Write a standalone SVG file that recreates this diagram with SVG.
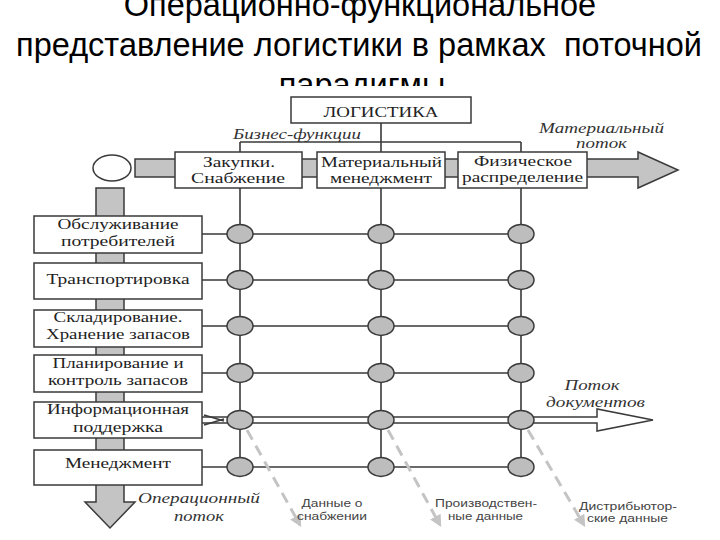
<svg xmlns="http://www.w3.org/2000/svg" width="720" height="540" viewBox="0 0 720 540">
<style>
.title{font-family:"Liberation Sans",Arial,sans-serif;font-size:32.5px;fill:#000;text-anchor:middle}
.box{fill:#fff;stroke:#3a3a3a;stroke-width:1.5}
.lbl{font-family:"Liberation Serif","DejaVu Serif",serif;font-size:14px;fill:#222;text-anchor:middle}
.it{font-family:"Liberation Serif","DejaVu Serif",serif;font-size:14px;font-style:italic;fill:#333;text-anchor:middle}
.sm{font-family:"Liberation Sans",Arial,sans-serif;font-size:11px;fill:#444;text-anchor:middle}
.ln{stroke:#3a3a3a;stroke-width:1.6;fill:none}
.dot{fill:#bdbdbd;stroke:#3a3a3a;stroke-width:1.5}
.band{fill:#c4c4c4;stroke:#3a3a3a;stroke-width:1.5}
.dash{stroke:#c4c4c4;stroke-width:3;stroke-dasharray:11 7;fill:none}
</style>
<defs>
<marker id="ah" viewBox="0 0 10 10" refX="8" refY="5" markerWidth="4" markerHeight="4" orient="auto">
<path d="M0,0 L10,5 L0,10 Z" fill="#c4c4c4"/>
</marker>
</defs>
<rect width="720" height="540" fill="#fff"/>
<g id="title">
<text class="title" x="360" y="16">Операционно-функциональное</text>
<text class="title" x="359" y="56" xml:space="preserve">представление логистики в рамках  поточной</text>
<text class="title" x="362" y="96">парадигмы</text>
</g>
<rect x="20" y="86" width="680" height="454" fill="#fff"/>
<g id="flows">
<path class="band" d="M135,159 L638,159 L638,152 L678,170 L638,188 L638,177 L135,177 Z"/>
<path class="band" d="M96,188 L124,188 L124,502 L135,502 L110,528 L85,502 L96,502 Z"/>
<ellipse cx="112" cy="168" rx="19" ry="13" fill="#fff" stroke="#3a3a3a" stroke-width="1.5"/>
</g>
<g id="connectors">
<path class="ln" d="M381,123 V142 M240,142 H521 M240,142 V467 M381,142 V467 M521,142 V467"/>
<path class="ln" d="M202,234 H521 M202,280 H521 M202,326 H521 M202,373 H521 M202,467 H521"/>
<path d="M202,417 L597,417 L597,409 L653,420 L597,431 L597,423 L202,423" fill="#fff" stroke="#3a3a3a" stroke-width="1.5"/>
<path class="ln" d="M204,415 L224,421 M204,425 L224,419" stroke-width="1"/>
<path class="dash" d="M247,430 L300,525" marker-end="url(#ah)"/>
<path class="dash" d="M388,430 L440,525" marker-end="url(#ah)"/>
<path class="dash" d="M528,430 L584,525" marker-end="url(#ah)"/>
</g>
<g id="dots">
<ellipse class="dot" cx="240" cy="234" rx="13" ry="9.5"/><ellipse class="dot" cx="381" cy="234" rx="13" ry="9.5"/><ellipse class="dot" cx="521" cy="234" rx="13" ry="9.5"/>
<ellipse class="dot" cx="240" cy="280" rx="13" ry="9.5"/><ellipse class="dot" cx="381" cy="280" rx="13" ry="9.5"/><ellipse class="dot" cx="521" cy="280" rx="13" ry="9.5"/>
<ellipse class="dot" cx="240" cy="326" rx="13" ry="9.5"/><ellipse class="dot" cx="381" cy="326" rx="13" ry="9.5"/><ellipse class="dot" cx="521" cy="326" rx="13" ry="9.5"/>
<ellipse class="dot" cx="240" cy="373" rx="13" ry="9.5"/><ellipse class="dot" cx="381" cy="373" rx="13" ry="9.5"/><ellipse class="dot" cx="521" cy="373" rx="13" ry="9.5"/>
<ellipse class="dot" cx="240" cy="420" rx="13" ry="9.5"/><ellipse class="dot" cx="381" cy="420" rx="13" ry="9.5"/><ellipse class="dot" cx="521" cy="420" rx="13" ry="9.5"/>
<ellipse class="dot" cx="240" cy="467" rx="13" ry="9.5"/><ellipse class="dot" cx="381" cy="467" rx="13" ry="9.5"/><ellipse class="dot" cx="521" cy="467" rx="13" ry="9.5"/>
</g>
<g id="logistika">
<rect class="box" x="291" y="97" width="180" height="26"/>
<text class="lbl" x="381" y="117" font-size="15" textLength="115" lengthAdjust="spacingAndGlyphs">ЛОГИСТИКА</text>
</g>
<g id="f-zakupki">
<rect class="box" x="175" y="152" width="127" height="36"/>
<text class="lbl" x="239" y="167" textLength="72" lengthAdjust="spacingAndGlyphs">Закупки.</text>
<text class="lbl" x="238" y="183" textLength="94" lengthAdjust="spacingAndGlyphs">Снабжение</text>
</g>
<g id="f-material">
<rect class="box" x="317" y="152" width="128" height="36"/>
<text class="lbl" x="381.5" y="167" textLength="121" lengthAdjust="spacingAndGlyphs">Материальный</text>
<text class="lbl" x="381" y="183" textLength="102" lengthAdjust="spacingAndGlyphs">менеджмент</text>
</g>
<g id="f-fizich">
<rect class="box" x="458" y="152" width="129" height="36"/>
<text class="lbl" x="523" y="166" textLength="98" lengthAdjust="spacingAndGlyphs">Физическое</text>
<text class="lbl" x="522.5" y="182" textLength="121" lengthAdjust="spacingAndGlyphs">распределение</text>
</g>
<g id="o-obsl">
<rect class="box" x="34" y="216" width="168" height="37"/>
<text class="lbl" x="118" y="229" textLength="121" lengthAdjust="spacingAndGlyphs">Обслуживание</text>
<text class="lbl" x="118" y="246" textLength="114" lengthAdjust="spacingAndGlyphs">потребителей</text>
</g>
<g id="o-transp">
<rect class="box" x="34" y="263" width="168" height="36"/>
<text class="lbl" x="118" y="284" textLength="143" lengthAdjust="spacingAndGlyphs">Транспортировка</text>
</g>
<g id="o-sklad">
<rect class="box" x="34" y="310" width="168" height="37"/>
<text class="lbl" x="118" y="322" textLength="129" lengthAdjust="spacingAndGlyphs">Складирование.</text>
<text class="lbl" x="118" y="339" textLength="144" lengthAdjust="spacingAndGlyphs">Хранение запасов</text>
</g>
<g id="o-plan">
<rect class="box" x="34" y="355" width="168" height="37"/>
<text class="lbl" x="118" y="368" textLength="131" lengthAdjust="spacingAndGlyphs">Планирование и</text>
<text class="lbl" x="118" y="385" textLength="140" lengthAdjust="spacingAndGlyphs">контроль запасов</text>
</g>
<g id="o-info">
<rect class="box" x="34" y="402" width="168" height="36"/>
<text class="lbl" x="118" y="414" textLength="142" lengthAdjust="spacingAndGlyphs">Информационная</text>
<text class="lbl" x="118" y="432" textLength="90" lengthAdjust="spacingAndGlyphs">поддержка</text>
</g>
<g id="o-men">
<rect class="box" x="34" y="450" width="168" height="35"/>
<text class="lbl" x="118" y="468" textLength="106" lengthAdjust="spacingAndGlyphs">Менеджмент</text>
</g>
<g id="labels">
<text class="it" x="297" y="139" textLength="128" lengthAdjust="spacingAndGlyphs">Бизнес-функции</text>
<text class="it" x="601.5" y="133" textLength="125" lengthAdjust="spacingAndGlyphs">Материальный</text>
<text class="it" x="601.5" y="148" textLength="51" lengthAdjust="spacingAndGlyphs">поток</text>
<text class="it" x="592" y="390" textLength="55" lengthAdjust="spacingAndGlyphs">Поток</text>
<text class="it" x="595.5" y="407" textLength="99" lengthAdjust="spacingAndGlyphs">документов</text>
<text class="it" x="199" y="503" textLength="122" lengthAdjust="spacingAndGlyphs">Операционный</text>
<text class="it" x="199" y="521" textLength="50" lengthAdjust="spacingAndGlyphs">поток</text>
<text class="sm" x="332" y="507" textLength="61" lengthAdjust="spacingAndGlyphs">Данные о</text>
<text class="sm" x="332" y="520" textLength="70" lengthAdjust="spacingAndGlyphs">снабжении</text>
<text class="sm" x="486" y="507" textLength="102" lengthAdjust="spacingAndGlyphs">Производствен-</text>
<text class="sm" x="485.5" y="520" textLength="75" lengthAdjust="spacingAndGlyphs">ные данные</text>
<text class="sm" x="628" y="510" textLength="98" lengthAdjust="spacingAndGlyphs">Дистрибьютор-</text>
<text class="sm" x="627.5" y="522" textLength="81" lengthAdjust="spacingAndGlyphs">ские данные</text>
</g>
</svg>
